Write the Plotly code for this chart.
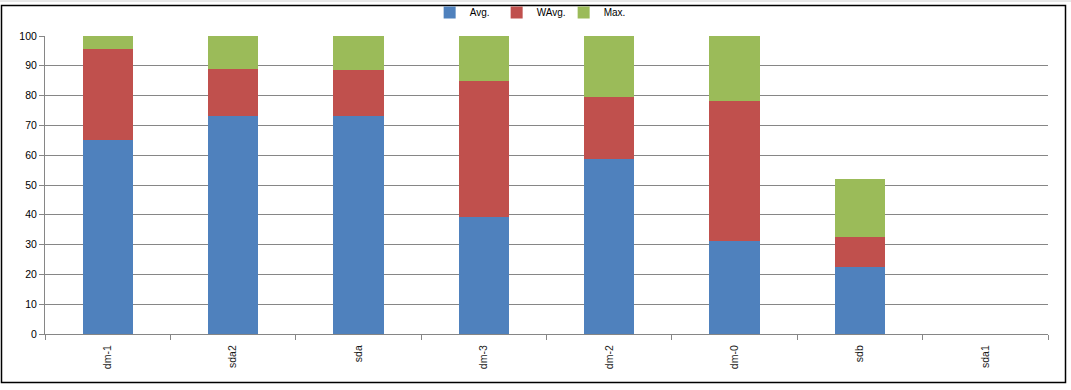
import plotly.graph_objects as go

categories = ["dm-1", "sda2", "sda", "dm-3", "dm-2", "dm-0", "sdb", "sda1"]
avg = [65, 73, 73, 39.3, 58.7, 31.2, 22.5, 0]
wavg = [30.5, 16, 15.6, 45.6, 20.8, 47, 10.1, 0]
mx = [4.5, 11, 11.4, 15.1, 20.5, 21.8, 19.4, 0]
y_ticks = [0, 10, 20, 30, 40, 50, 60, 70, 80, 90, 100]

fig = go.Figure()
fig.add_bar(x=categories, y=avg, name="Avg.", marker=dict(color="#4F81BD", line=dict(width=0)))
fig.add_bar(x=categories, y=wavg, name="WAvg.", marker=dict(color="#C0504D", line=dict(width=0)))
fig.add_bar(x=categories, y=mx, name="Max.", marker=dict(color="#9BBB59", line=dict(width=0)))

W, H = 1071, 390
L, R, T, B = 45, 23, 36, 56
fig.update_layout(
    width=W, height=H,
    barmode="stack", bargap=0.6,
    paper_bgcolor="white", plot_bgcolor="white",
    margin=dict(l=L, r=R, t=T, b=B, autoexpand=False),
    font=dict(family="Liberation Sans, Arial, sans-serif", size=10, color="#000000"),
    legend=dict(orientation="h", xref="container", yref="container",
                x=0.495, y=0.968, xanchor="center", yanchor="middle",
                traceorder="normal", entrywidth=22, entrywidthmode="pixels",
                font=dict(size=10), itemwidth=30, tracegroupgap=0,
                bgcolor="rgba(0,0,0,0)"),
    xaxis=dict(type="category", tickson="boundaries", ticks="outside", ticklen=5,
               tickcolor="#868686", showline=True, linecolor="#868686", linewidth=1,
               showgrid=False, tickangle=-90, automargin=False, ticklabelstandoff=6,
               tickfont=dict(size=10.5, color="#1a1a1a")),
    yaxis=dict(range=[0, 100], tickvals=y_ticks, ticks="outside", ticklen=5,
               tickcolor="#868686", showline=True, linecolor="#868686", linewidth=1,
               showgrid=True, gridcolor="#868686", gridwidth=1, zeroline=False,
               automargin=False, tickfont=dict(size=10.5)),
)

def px_x(p):
    return (p - L) / (W - L - R)

def px_y(p):
    return (H - B - p) / (H - T - B)

# chart border
fig.add_shape(type="rect", xref="paper", yref="paper",
              x0=px_x(1.5), x1=px_x(1065.5), y0=px_y(382.5), y1=px_y(5.5),
              line=dict(color="#000000", width=1.5), layer="below")
# spreadsheet strip above
fig.add_shape(type="line", xref="paper", yref="paper",
              x0=px_x(0), x1=px_x(1071), y0=px_y(1), y1=px_y(1),
              line=dict(color="#d0d0d0", width=1))

fig.write_html("out.html", config={"displayModeBar": False},
               post_script="document.body.style.margin='0';document.body.style.overflow='hidden';")
